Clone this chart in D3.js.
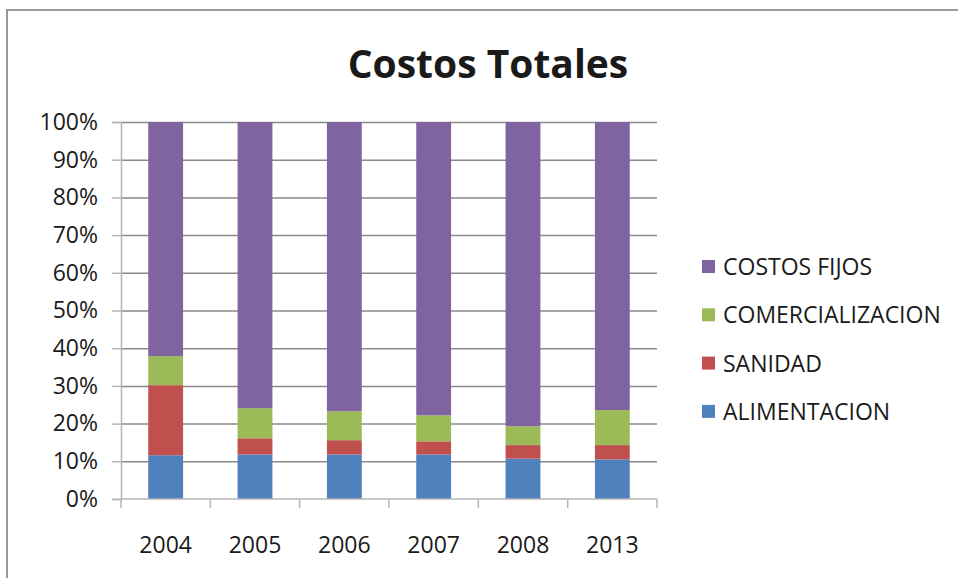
<!DOCTYPE html>
<html>
<head>
<meta charset="utf-8">
<script src="https://d3js.org/d3.v7.min.js"></script>
<style>
  body { margin: 0; background: #fff; }
  svg { display: block; }
  text { font-family: "Open Sans", sans-serif; fill: #1a1a1a; }
</style>
</head>
<body>
<script>
// chart values (percent of total)
var years = ["2004", "2005", "2006", "2007", "2008", "2013"];
var seriesNames = ["ALIMENTACION", "SANIDAD", "COMERCIALIZACION", "COSTOS FIJOS"];
var alimentacion = [11.6, 11.8, 11.8, 11.8, 10.7, 10.5];
var sanidad = [18.6, 4.3, 3.8, 3.5, 3.6, 3.8];
var comercializacion = [7.7, 8.0, 7.7, 6.9, 5.0, 9.3];
var costosFijos = [62.1, 75.9, 76.7, 77.8, 80.7, 76.4];
var yTicks = [0, 10, 20, 30, 40, 50, 60, 70, 80, 90, 100];
var colors = ["#4F81BD", "#C0504D", "#9BBB59", "#8064A2"];

var W = 958, H = 578;
var plotL = 121, plotR = 657, plotT = 122, plotB = 499;

var rows = years.map(function(y, i) {
  return { year: y, ALIMENTACION: alimentacion[i], SANIDAD: sanidad[i],
           COMERCIALIZACION: comercializacion[i], "COSTOS FIJOS": costosFijos[i] };
});
var stacked = d3.stack().keys(seriesNames).offset(d3.stackOffsetExpand)(rows);

var svg = d3.select("body").append("svg").attr("width", W).attr("height", H);

// outer chart frame (right and bottom fall outside the picture)
svg.append("rect")
  .attr("x", 7).attr("y", 10).attr("width", 960).attr("height", 580)
  .attr("fill", "#fff").attr("stroke", "#999").attr("stroke-width", 2);

var x = d3.scaleBand().domain(years).range([plotL, plotR]).paddingInner(0.61).paddingOuter(0.305);
var xEdge = d3.scaleLinear().domain([0, years.length]).range([plotL, plotR]);
var y = d3.scaleLinear().domain([0, 1]).range([plotB, plotT]);

// gridlines
svg.append("g")
  .attr("transform", "translate(" + plotL + ",0)")
  .call(d3.axisLeft(y).tickValues(yTicks.filter(function(t) { return t > 0; }).map(function(t) { return t / 100; }))
    .tickSize(-(plotR - plotL)).tickFormat(""))
  .call(function(g) {
    g.select(".domain").remove();
    g.selectAll("line").attr("stroke", "#8a8a8a").attr("stroke-width", 1.5);
  });

// bars
svg.append("g").selectAll("g").data(stacked).join("g")
  .attr("fill", function(d, i) { return colors[i]; })
  .selectAll("rect").data(function(d) { return d; }).join("rect")
  .attr("x", function(d) { return x(d.data.year); })
  .attr("width", x.bandwidth())
  .attr("y", function(d) { return y(d[1]); })
  .attr("height", function(d) { return y(d[0]) - y(d[1]); });

// y axis
svg.append("g")
  .attr("transform", "translate(" + plotL + ",0)")
  .call(d3.axisLeft(y).tickValues(yTicks.map(function(t) { return t / 100; }))
    .tickSize(9).tickPadding(14).tickFormat(function(d) { return Math.round(d * 100) + "%"; }))
  .call(function(g) {
    g.select(".domain").attr("stroke", "#b5b5b5").attr("stroke-width", 1.5);
    g.selectAll("line").attr("stroke", "#b5b5b5").attr("stroke-width", 1.5);
    g.selectAll("text").style("font-size", "23px").attr("fill", "#222").style("font-family", "Open Sans");
  });

// x axis
svg.append("g")
  .attr("transform", "translate(0," + plotB + ")")
  .call(d3.axisBottom(x).tickSize(0).tickPadding(38))
  .call(function(g) {
    g.select(".domain").attr("stroke", "#b5b5b5").attr("stroke-width", 1.5).attr("d", "M" + plotL + ",0H" + plotR);
    g.selectAll("text").style("font-size", "23px").attr("fill", "#222").style("font-family", "Open Sans");
  });
svg.append("g").selectAll("line").data(d3.range(years.length + 1)).join("line")
  .attr("x1", function(i) { return xEdge(i); }).attr("x2", function(i) { return xEdge(i); })
  .attr("y1", plotB).attr("y2", plotB + 9)
  .attr("stroke", "#b5b5b5").attr("stroke-width", 1.5);

// title
svg.append("text")
  .attr("x", 488).attr("y", 78)
  .attr("text-anchor", "middle")
  .style("font-size", "39px").style("font-weight", "bold")
  .attr("fill", "#000")
  .text("Costos Totales");

// legend (top entry is the top of the stack)
var legend = svg.append("g").selectAll("g").data(seriesNames.slice().reverse()).join("g")
  .attr("transform", function(d, i) { return "translate(702," + (267 + i * 48.3) + ")"; });
legend.append("rect")
  .attr("x", 0).attr("y", -7).attr("width", 13).attr("height", 13)
  .attr("fill", function(d) { return colors[seriesNames.indexOf(d)]; });
legend.append("text")
  .attr("x", 21).attr("dy", "0.35em")
  .style("font-size", "23px")
  .attr("fill", "#222")
  .text(function(d) { return d; });
</script>
</body>
</html>
